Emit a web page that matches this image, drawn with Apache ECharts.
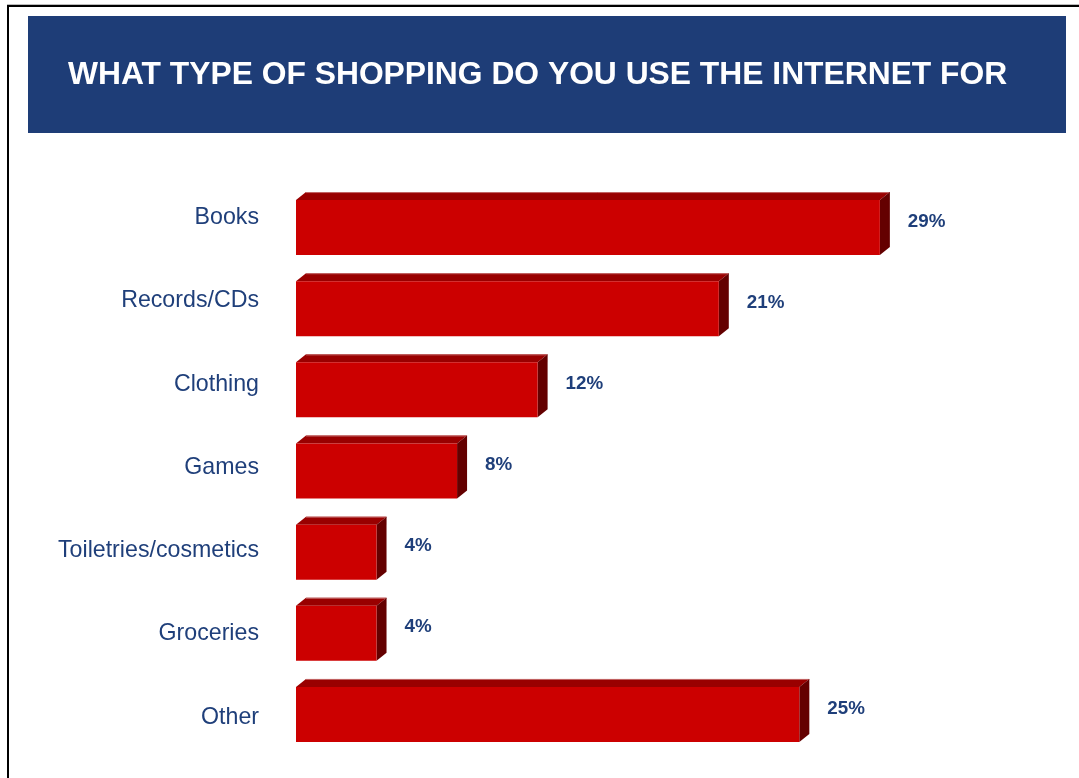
<!DOCTYPE html>
<html>
<head>
<meta charset="utf-8">
<title>What type of shopping do you use the internet for</title>
<script src="https://cdn.jsdelivr.net/npm/echarts@6/dist/echarts.min.js"></script>
<style>
  html, body { margin: 0; padding: 0; background: #ffffff; }
  #chart { width: 1079px; height: 778px; }
</style>
</head>
<body>
<div id="chart"></div>
<script>
// Survey answers, top to bottom
const categories = ['Books', 'Records/CDs', 'Clothing', 'Games', 'Toiletries/cosmetics', 'Groceries', 'Other'];
const shares = [29, 21, 12, 8, 4, 4, 25];
const titleText = 'WHAT TYPE OF SHOPPING DO YOU USE THE INTERNET FOR';

const FONT = '"Liberation Sans", Arial, Helvetica, sans-serif';
const NAVY = '#1F3F7A';
const FRONT = '#CC0000';
const TOP = '#990000';
const SIDE = '#640000';
const DEPTH_X = 10;
const DEPTH_Y = 8;

const chart = echarts.init(document.getElementById('chart'), null, { renderer: 'canvas' });

const barData = shares.map((v, i) => [v, i]);

// Draws a bar as a box: front face, top face, right side face, plus its value label
function renderBox(params, api) {
  const v = api.value(0);
  const idx = api.value(1);
  const start = api.coord([0, idx]);
  const end = api.coord([v, idx]);
  const band = api.size([0, 1])[1];
  const h = band * 0.678;
  const x0 = start[0], x1 = end[0], yc = start[1];
  const top = yc - h / 2, bot = yc + h / 2;
  return {
    type: 'group',
    children: [
      { type: 'polygon', shape: { points: [[x0, top], [x0 + DEPTH_X, top - DEPTH_Y], [x1 + DEPTH_X, top - DEPTH_Y], [x1, top]] },
        style: { fill: TOP } },
      { type: 'line', shape: { x1: x0 + DEPTH_X, y1: top - DEPTH_Y + 0.5, x2: x1 + DEPTH_X, y2: top - DEPTH_Y + 0.5 },
        style: { stroke: '#c46a6a', lineWidth: 1 } },
      { type: 'polygon', shape: { points: [[x1, top], [x1 + DEPTH_X, top - DEPTH_Y], [x1 + DEPTH_X, bot - DEPTH_Y], [x1, bot]] },
        style: { fill: SIDE } },
      { type: 'rect', shape: { x: x0, y: top, width: x1 - x0, height: h }, style: { fill: FRONT } },
      { type: 'text', style: {
          text: v + '%', x: x1 + 28, y: yc - 6,
          fill: NAVY, font: 'bold 18.8px ' + FONT,
          textAlign: 'left', textVerticalAlign: 'middle'
        } }
    ]
  };
}

const option = {
  backgroundColor: '#ffffff',
  animation: false,
  grid: [
    { left: 296, top: 187, height: 568, right: 179 },
    { left: 296, top: 176, height: 583, right: 179 }
  ],
  xAxis: [
    { type: 'value', gridIndex: 0, min: 0, max: 30, show: false },
    { type: 'value', gridIndex: 1, min: 0, max: 30, show: false }
  ],
  yAxis: [
    { type: 'category', gridIndex: 0, inverse: true, data: categories, show: false },
    {
      type: 'category', gridIndex: 1, inverse: true, data: categories,
      axisLine: { show: false }, axisTick: { show: false }, splitLine: { show: false },
      axisLabel: { color: NAVY, fontSize: 23.2, fontFamily: FONT, margin: 37 }
    }
  ],
  graphic: [
    { type: 'rect', shape: { x: 7, y: 4, width: 1072, height: 1 }, style: { fill: '#bbbbbb' }, silent: true },
    { type: 'rect', shape: { x: 7, y: 5, width: 1072, height: 2 }, style: { fill: '#000000' }, silent: true },
    { type: 'rect', shape: { x: 7, y: 5, width: 2, height: 773 }, style: { fill: '#000000' }, silent: true },
    { type: 'rect', shape: { x: 28, y: 16, width: 1038, height: 117 }, style: { fill: '#1E3D77' }, silent: true },
    { type: 'text', x: 68, y: 75, silent: true,
      style: { text: titleText, fill: '#ffffff', font: 'bold 31.8px ' + FONT, textAlign: 'left', textVerticalAlign: 'middle' } }
  ],
  series: [
    {
      type: 'custom',
      xAxisIndex: 0,
      yAxisIndex: 0,
      data: barData,
      encode: { x: 0, y: 1 },
      renderItem: renderBox
    }
  ]
};

chart.setOption(option);
</script>
</body>
</html>
